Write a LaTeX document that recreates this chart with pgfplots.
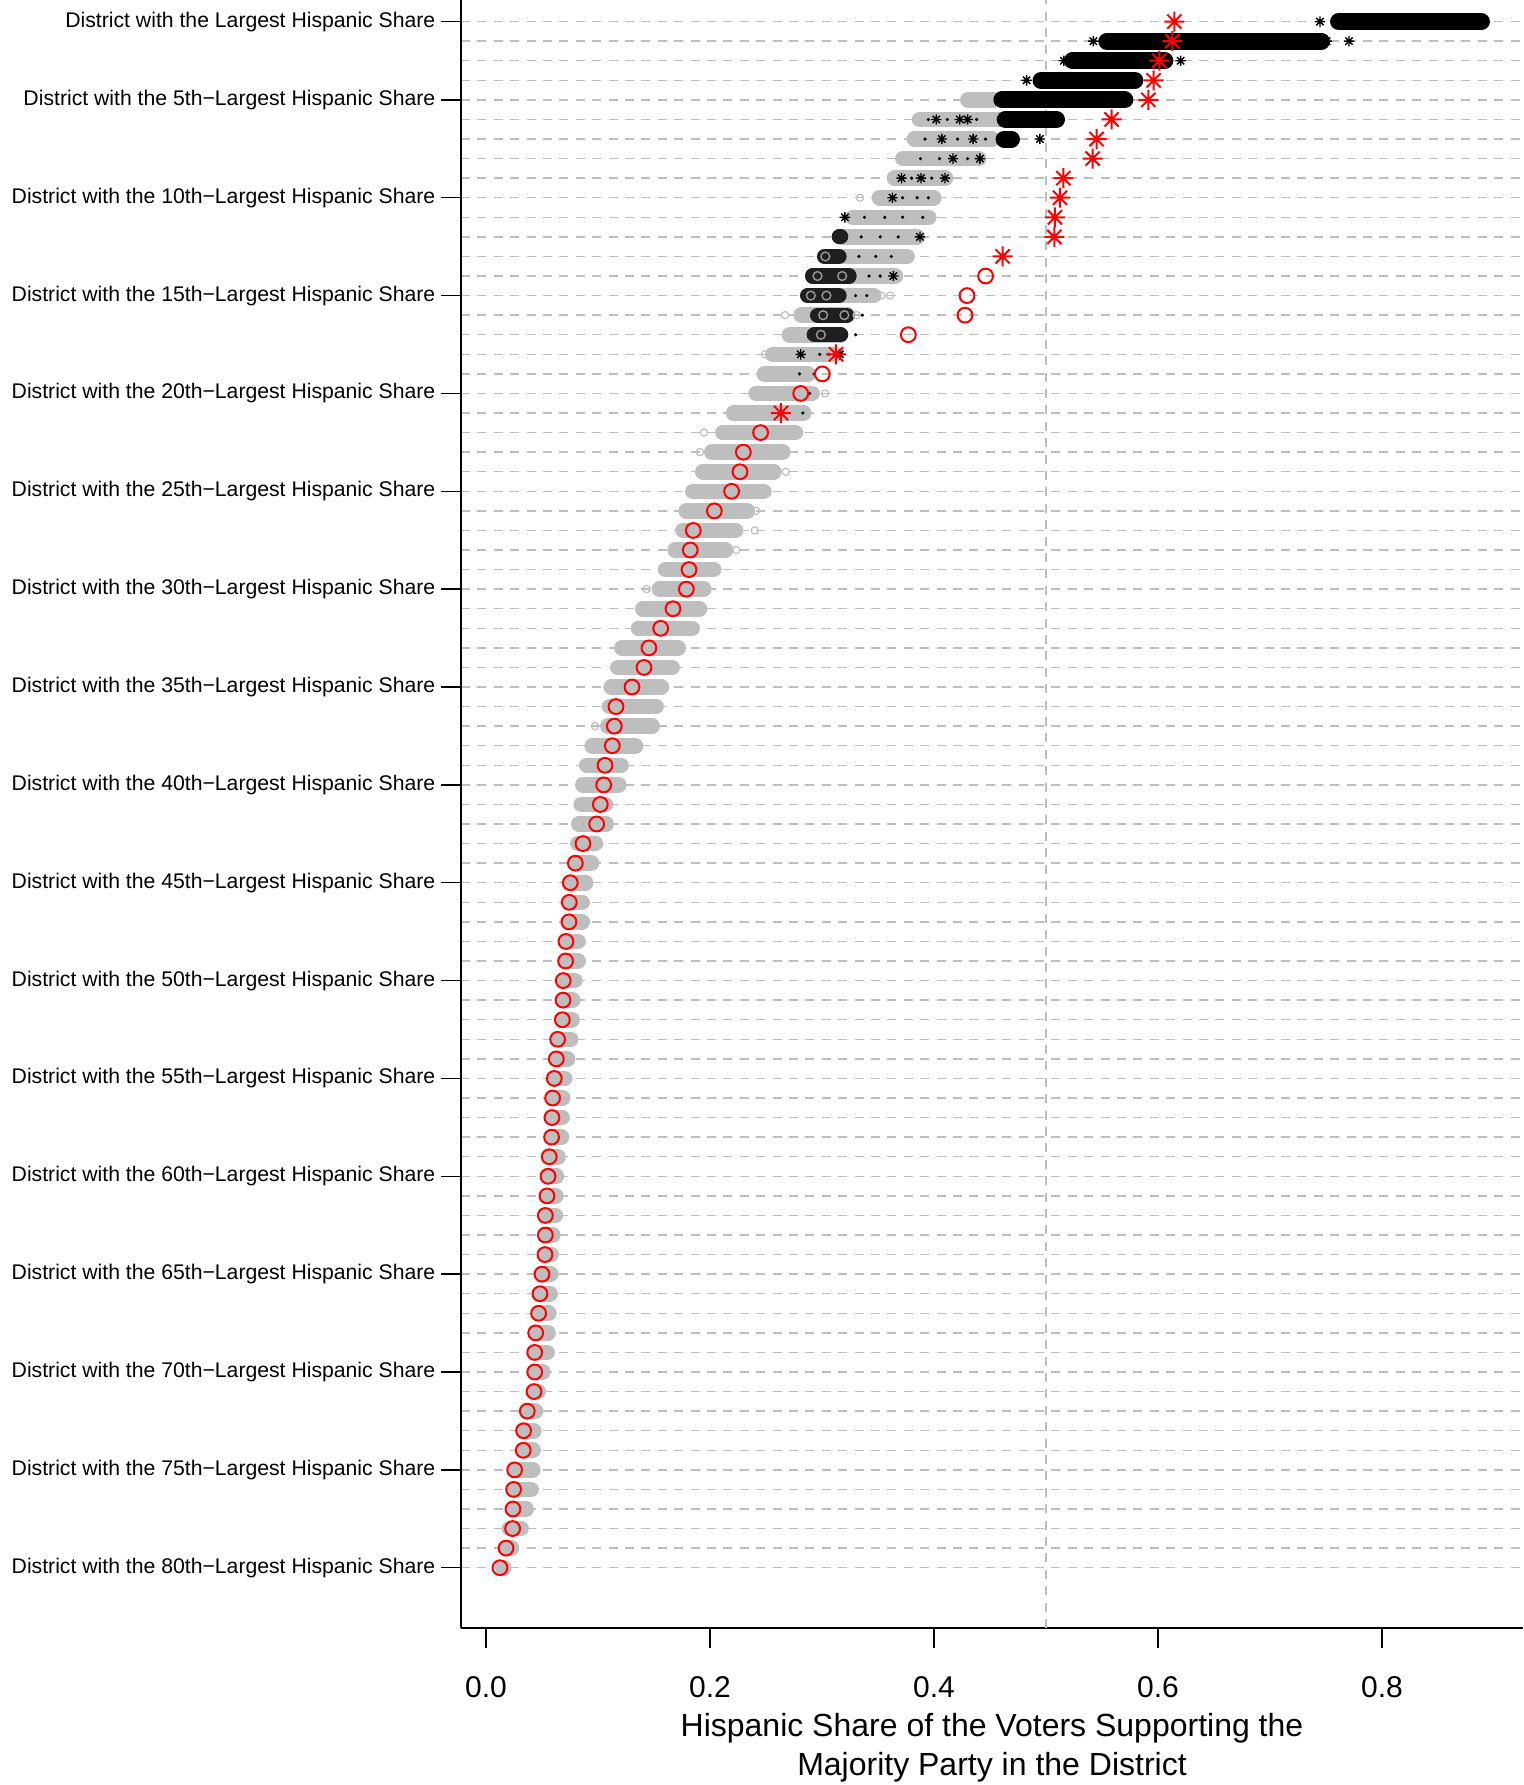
\documentclass[border=0pt]{standalone}
\usepackage{fontspec}
\setmainfont{Liberation Sans}
\usepackage{pgfplots}
\usepackage{pgfplotstable}
\pgfplotsset{compat=1.18}
\definecolor{cloudgrey}{HTML}{BEBEBE}
\definecolor{gridgrey}{HTML}{BEBEBE}
\pgfdeclareplotmark{rast}{%
  \pgfpathmoveto{\pgfqpoint{-\pgfplotmarksize}{0pt}}\pgfpathlineto{\pgfqpoint{\pgfplotmarksize}{0pt}}%
  \pgfpathmoveto{\pgfqpoint{0pt}{-\pgfplotmarksize}}\pgfpathlineto{\pgfqpoint{0pt}{\pgfplotmarksize}}%
  \pgfpathmoveto{\pgfqpoint{-0.7071\pgfplotmarksize}{-0.7071\pgfplotmarksize}}\pgfpathlineto{\pgfqpoint{0.7071\pgfplotmarksize}{0.7071\pgfplotmarksize}}%
  \pgfpathmoveto{\pgfqpoint{-0.7071\pgfplotmarksize}{0.7071\pgfplotmarksize}}\pgfpathlineto{\pgfqpoint{0.7071\pgfplotmarksize}{-0.7071\pgfplotmarksize}}%
  \pgfusepathqstroke}

% simulated plans: grey cloud extent per rank
\pgfplotstableread{
r lo hi
5 0.4232 0.4600
6 0.3801 0.4700
7 0.3756 0.4589
8 0.3652 0.4470
9 0.3577 0.4173
10 0.3443 0.4068
11 0.3205 0.4024
12 0.3095 0.3920
13 0.2967 0.3830
14 0.2848 0.3726
15 0.2804 0.3533
16 0.2744 0.3295
17 0.2640 0.3235
18 0.2491 0.3190
19 0.2415 0.2945
20 0.2342 0.2982
21 0.2140 0.2908
22 0.2045 0.2833
23 0.1946 0.2720
24 0.1866 0.2640
25 0.1777 0.2551
26 0.1717 0.2402
27 0.1688 0.2298
28 0.1619 0.2208
29 0.1533 0.2104
30 0.1479 0.2015
31 0.1330 0.1976
32 0.1292 0.1911
33 0.1143 0.1786
34 0.1107 0.1732
35 0.1048 0.1637
36 0.1033 0.1589
37 0.1018 0.1554
38 0.0878 0.1405
39 0.0830 0.1277
40 0.0795 0.1256
41 0.0780 0.1137
42 0.0759 0.1143
43 0.0750 0.1048
44 0.0730 0.1012
45 0.0690 0.0960
46 0.0685 0.0929
47 0.0676 0.0929
48 0.0646 0.0893
49 0.0646 0.0893
50 0.0625 0.0863
51 0.0625 0.0845
52 0.0616 0.0839
53 0.0571 0.0827
54 0.0563 0.0798
55 0.0542 0.0774
56 0.0530 0.0756
57 0.0524 0.0750
58 0.0518 0.0744
59 0.0497 0.0714
60 0.0488 0.0699
61 0.0485 0.0693
62 0.0470 0.0690
63 0.0470 0.0667
64 0.0467 0.0652
65 0.0440 0.0649
66 0.0422 0.0643
67 0.0410 0.0631
68 0.0384 0.0625
69 0.0375 0.0616
70 0.0375 0.0577
71 0.0369 0.0536
72 0.0309 0.0512
73 0.0276 0.0497
74 0.0273 0.0491
75 0.0196 0.0488
76 0.0187 0.0473
77 0.0181 0.0429
78 0.0140 0.0384
79 0.0120 0.0298
80 0.0080 0.0229
}\greycloud

% simulated plans: black (asterisk) cloud extent per rank, dense part
\pgfplotstableread{
r lo hi
1 0.7536 0.8964
2 0.5467 0.7536
3 0.5160 0.6137
4 0.4880 0.5870
5 0.4530 0.5780
6 0.4560 0.5170
7 0.4550 0.4768
}\blackcloud

% simulated plans: mixed black region (asterisks among grey circles)
\pgfplotstableread{
r lo hi
12 0.3086 0.3235
13 0.2955 0.3220
14 0.2848 0.3310
15 0.2804 0.3220
16 0.2893 0.3290
17 0.2863 0.3235
}\mixcloud

\pgfplotstableread{
r x
13 0.3030
14 0.2960
14 0.3180
15 0.2900
15 0.3040
16 0.3010
16 0.3200
17 0.2990
}\mixrings

\pgfplotstableread{
r x
1 0.7446
2 0.5423
2 0.7705
2 0.7506
3 0.6202
3 0.5160
4 0.4827
6 0.402
6 0.423
6 0.430
7 0.407
7 0.435
7 0.4946
8 0.417
8 0.441
9 0.371
9 0.3884
9 0.4098
10 0.363
11 0.3205
12 0.3875
14 0.3637
18 0.281
18 0.316
}\blackpts

% scattered single black specks within grey clouds
\pgfplotstableread{
r x
6 0.395
6 0.412
6 0.438
7 0.392
7 0.421
7 0.446
8 0.388
8 0.405
8 0.430
9 0.380
9 0.398
10 0.372
10 0.385
10 0.395
11 0.338
11 0.356
11 0.372
11 0.390
12 0.335
12 0.352
12 0.368
13 0.333
13 0.348
13 0.362
14 0.342
14 0.352
15 0.330
15 0.340
16 0.336
17 0.330
18 0.298
18 0.306
19 0.280
19 0.293
20 0.289
21 0.283
}\specks

\pgfplotstableread{
r x
10 0.3339
15 0.3607
15 0.3530
16 0.2670
16 0.3310
18 0.2491
18 0.2540
20 0.3027
22 0.1946
23 0.1910
24 0.2676
26 0.2410
27 0.2400
28 0.2235
30 0.1435
37 0.0973
}\greypts

% enacted plan
\pgfplotstableread{
r x
1 0.6146
2 0.6128
3 0.6012
4 0.5961
5 0.5914
6 0.5586
7 0.5452
8 0.5417
9 0.5155
10 0.5125
11 0.5080
12 0.5074
13 0.4613
18 0.3125
21 0.2634
}\redast

\pgfplotstableread{
r x
14 0.4461
15 0.4295
16 0.4277
17 0.3771
19 0.3003
20 0.2810
22 0.2452
23 0.2298
24 0.2268
25 0.2193
26 0.2039
27 0.1851
28 0.1824
29 0.1813
30 0.1789
31 0.1670
32 0.1560
33 0.1455
34 0.1411
35 0.1304
36 0.1161
37 0.1146
38 0.1128
39 0.1063
40 0.1051
41 0.1021
42 0.0988
43 0.0866
44 0.0798
45 0.0753
46 0.0744
47 0.0741
48 0.0714
49 0.0711
50 0.0690
51 0.0688
52 0.0682
53 0.0640
54 0.0628
55 0.0610
56 0.0595
57 0.0589
58 0.0586
59 0.0565
60 0.0554
61 0.0545
62 0.0530
63 0.0530
64 0.0527
65 0.0500
66 0.0482
67 0.0470
68 0.0444
69 0.0435
70 0.0435
71 0.0429
72 0.0369
73 0.0336
74 0.0333
75 0.0256
76 0.0247
77 0.0241
78 0.0238
79 0.0179
80 0.0125
}\redcirc

\begin{document}
\begin{tikzpicture}
\useasboundingbox (0,0) rectangle (761.5pt,892.5pt);
\begin{axis}[
  at={(230.5pt,78.5pt)}, anchor=south west,
  scale only axis, width=531pt, height=814pt,
  xmin=-0.0223, xmax=0.9259, ymin=-83.08, ymax=0.104,
  axis x line*=bottom, axis y line*=left,
  axis line style={line width=0.9pt, black},
  tick align=outside, major tick length=9.8pt, minor tick length=0pt,
  tick style={line width=0.7pt, black},
  xtick={0,0.2,0.4,0.6,0.8},
  xticklabels={0.0,0.2,0.4,0.6,0.8},
  xticklabel style={font=\fontsize{15}{18}\selectfont, yshift=-11pt},
  ytick={-80,-75,-70,-65,-60,-55,-50,-45,-40,-35,-30,-25,-20,-15,-10,-5,-1},
  yticklabels={
    District with the 80th−Largest Hispanic Share,
    District with the 75th−Largest Hispanic Share,
    District with the 70th−Largest Hispanic Share,
    District with the 65th−Largest Hispanic Share,
    District with the 60th−Largest Hispanic Share,
    District with the 55th−Largest Hispanic Share,
    District with the 50th−Largest Hispanic Share,
    District with the 45th−Largest Hispanic Share,
    District with the 40th−Largest Hispanic Share,
    District with the 35th−Largest Hispanic Share,
    District with the 30th−Largest Hispanic Share,
    District with the 25th−Largest Hispanic Share,
    District with the 20th−Largest Hispanic Share,
    District with the 15th−Largest Hispanic Share,
    District with the 10th−Largest Hispanic Share,
    District with the 5th−Largest Hispanic Share,
    District with the Largest Hispanic Share},
  yticklabel style={font=\fontsize{10.6}{12}\selectfont, xshift=0.5pt},
  minor ytick={-80,-79,...,-1},
  yminorgrids=true,
  minor grid style={gridgrey, line width=0.7pt, dash pattern=on 4.5pt off 3.7pt},
  extra x ticks={0.5}, extra x tick labels={},
  extra x tick style={grid=major, major tick length=0pt,
    major grid style={gridgrey, line width=0.7pt, dash pattern=on 4.5pt off 3.7pt}},
  xlabel={Hispanic Share of the Voters Supporting the\\Majority Party in the District},
  xlabel style={align=center, font=\fontsize{16}{19.75}\selectfont,
    at={(axis description cs:0.5,0)}, anchor=north, yshift=-39pt},
  clip=true,
]
% grey clouds of simulated plans
\addplot[draw=none, mark=none,
  error bars/.cd, x dir=both, x explicit, error mark=none,
  error bar style={draw=cloudgrey, line width=7.8pt, line cap=round, solid}]
  table[x expr={(\thisrow{lo}+\thisrow{hi})/2}, y expr={-\thisrow{r}},
        x error expr={max(0,(\thisrow{hi}-\thisrow{lo})/2-0.0070)}] {\greycloud};
% black clouds of simulated plans
\addplot[draw=none, mark=none,
  error bars/.cd, x dir=both, x explicit, error mark=none,
  error bar style={draw=black, line width=8.5pt, line cap=round, solid}]
  table[x expr={(\thisrow{lo}+\thisrow{hi})/2}, y expr={-\thisrow{r}},
        x error expr={max(0,(\thisrow{hi}-\thisrow{lo})/2-0.0076)}] {\blackcloud};
\addplot[draw=none, mark=none,
  error bars/.cd, x dir=both, x explicit, error mark=none,
  error bar style={draw=black!88, line width=7.6pt, line cap=round, solid}]
  table[x expr={(\thisrow{lo}+\thisrow{hi})/2}, y expr={-\thisrow{r}},
        x error expr={max(0,(\thisrow{hi}-\thisrow{lo})/2-0.0068)}] {\mixcloud};
\addplot[only marks, mark=o, mark size=2.2pt, draw=gray!80, line width=0.7pt]
  table[x=x, y expr={-\thisrow{r}}] {\mixrings};
% outlying simulated values
\addplot[only marks, mark=o, mark size=1.8pt, draw=cloudgrey, line width=0.6pt]
  table[x=x, y expr={-\thisrow{r}}] {\greypts};
\addplot[only marks, mark=*, mark size=0.6pt, draw=black, fill=black]
  table[x=x, y expr={-\thisrow{r}}] {\specks};
\addplot[only marks, mark=rast, mark size=2.6pt, draw=black, line width=0.7pt]
  table[x=x, y expr={-\thisrow{r}}] {\blackpts};
% enacted plan
\addplot[only marks, mark=rast, mark size=5pt, draw=red, line width=1pt]
  table[x=x, y expr={-\thisrow{r}}] {\redast};
\addplot[only marks, mark=o, mark size=3.7pt, draw=red, line width=1pt]
  table[x=x, y expr={-\thisrow{r}}] {\redcirc};
\end{axis}
\end{tikzpicture}
\end{document}
